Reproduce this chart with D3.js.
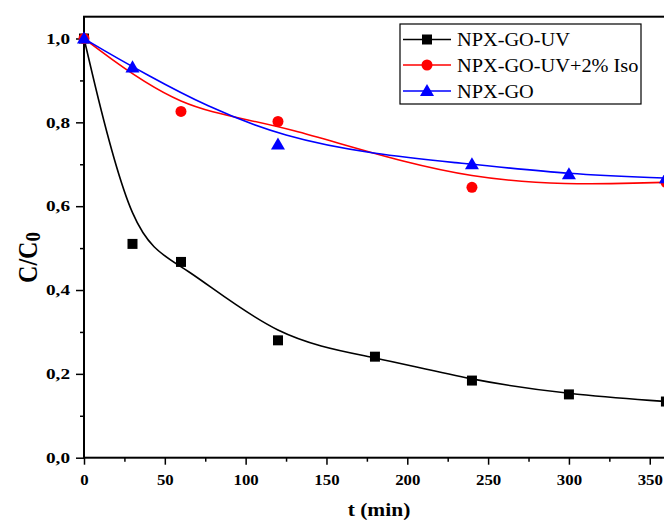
<!DOCTYPE html>
<html><head><meta charset="utf-8">
<script src="https://cdn.jsdelivr.net/npm/d3@7/dist/d3.min.js"></script>
<style>body{margin:0;background:#fff;overflow:hidden}svg{display:block}</style>
</head><body>
<svg id="c" width="664" height="525"></svg>
<script>
const times = [0, 30, 60, 120, 180, 240, 300, 360];
const uvValues = [1.0, 0.51, 0.467, 0.28, 0.241, 0.184, 0.151, 0.134];
const isoTimes = [0, 60, 120, 240, 360];
const isoValues = [1.0, 0.826, 0.802, 0.645, 0.657];
const goTimes = [0, 30, 120, 240, 300, 360];
const goValues = [1.0, 0.931, 0.747, 0.7, 0.676, 0.667];
const xTicks = [0, 50, 100, 150, 200, 250, 300, 350];
const yTicks = [0, 0.2, 0.4, 0.6, 0.8, 1.0];
const seriesNames = ["NPX-GO-UV", "NPX-GO-UV+2% Iso", "NPX-GO"];

const svg = d3.select("#c");
const L = 84, T = 16.7, B = 457.7, R = 674;
const x = d3.scaleLinear().domain([0, 365]).range([L, R]);
const y = d3.scaleLinear().domain([0, 1.052]).range([B, T]);
const font = "'Liberation Serif','Times New Roman',serif";

function stretch(sel, k) {
  sel.each(function () {
    const w = this.getComputedTextLength();
    d3.select(this).attr("textLength", w * k).attr("lengthAdjust", "spacingAndGlyphs");
  });
}

// frame
svg.append("rect").attr("x", L).attr("y", T).attr("width", R - L).attr("height", B - T)
  .attr("fill", "none").attr("stroke", "#000").attr("stroke-width", 2);

// x axis
const xa = svg.append("g").attr("transform", `translate(0,${B})`)
  .call(d3.axisBottom(x).tickValues(xTicks).tickSize(7).tickPadding(10).tickFormat(d3.format("d")));
xa.call(g => g.select(".domain").remove());
xa.selectAll("line").attr("stroke-width", 1.5);
xa.selectAll("text").attr("font-family", font).attr("font-weight", "bold").attr("font-size", 15).call(stretch, 1.12);
const xm = svg.append("g").attr("transform", `translate(0,${B})`)
  .call(d3.axisBottom(x).tickValues(d3.range(25, 365, 50)).tickSize(4).tickFormat(""));
xm.call(g => g.select(".domain").remove());
xm.selectAll("line").attr("stroke-width", 1.5);

// y axis
const ya = svg.append("g").attr("transform", `translate(${L},0)`)
  .call(d3.axisLeft(y).tickValues(yTicks).tickSize(8).tickPadding(6).tickFormat(d => d3.format(".1f")(d).replace(".", ",")));
ya.call(g => g.select(".domain").remove());
ya.selectAll("line").attr("stroke-width", 1.5);
ya.selectAll("text").attr("font-family", font).attr("font-weight", "bold").attr("font-size", 15).call(stretch, 1.28);
const ym = svg.append("g").attr("transform", `translate(${L},0)`)
  .call(d3.axisLeft(y).tickValues([0.1, 0.3, 0.5, 0.7, 0.9]).tickSize(4).tickFormat(""));
ym.call(g => g.select(".domain").remove());
ym.selectAll("line").attr("stroke-width", 1.5);

// titles
svg.append("text").attr("x", (L + R) / 2).attr("y", 516).attr("text-anchor", "middle")
  .attr("font-family", font).attr("font-weight", "bold").attr("font-size", 19).text("t (min)")
  .call(stretch, 1.13);
const yt = svg.append("text").attr("transform", "translate(37,257.5) scale(1.12,1) rotate(-90)").attr("text-anchor", "middle")
  .attr("font-family", font).attr("font-weight", "bold").attr("font-size", 24);
yt.append("tspan").text("C/C");
yt.append("tspan").attr("dy", 3).attr("font-size", 19).text("0");

// series
const series = [
  {t: times, v: uvValues, color: "#000000", shape: "square"},
  {t: isoTimes, v: isoValues, color: "#ff0000", shape: "circle"},
  {t: goTimes, v: goValues, color: "#0000ff", shape: "triangle"}
];
const line = d3.line().x(d => x(d[0])).y(d => y(d[1])).curve(d3.curveBasis);
const sym = {
  square: d3.symbol().type(d3.symbolSquare).size(100),
  circle: d3.symbol().type(d3.symbolCircle).size(95),
  triangle: d3.symbol().type(d3.symbolTriangle).size(85)
};
series.forEach(s => {
  const pts = s.t.map((t, i) => [t, s.v[i]]);
  svg.append("path").attr("d", line(pts)).attr("fill", "none").attr("stroke", s.color).attr("stroke-width", 1.6);
});
series.forEach(s => {
  const pts = s.t.map((t, i) => [t, s.v[i]]);
  svg.selectAll(null).data(pts).enter().append("path")
    .attr("d", sym[s.shape]())
    .attr("transform", d => `translate(${x(d[0])},${y(d[1]) + (s.shape === "triangle" ? 1 : 0)})`)
    .attr("fill", s.color);
});

// legend
const lg = svg.append("g");
lg.append("rect").attr("x", 400).attr("y", 24).attr("width", 241).attr("height", 80)
  .attr("fill", "#fff").attr("stroke", "#000").attr("stroke-width", 1.2);
const ly = [39.5, 65, 91];
series.forEach((s, i) => {
  lg.append("line").attr("x1", 403).attr("x2", 451).attr("y1", ly[i]).attr("y2", ly[i])
    .attr("stroke", s.color).attr("stroke-width", 1.6);
  lg.append("path").attr("d", sym[s.shape]()).attr("transform", `translate(427,${ly[i] + (s.shape === "triangle" ? 1 : 0)})`).attr("fill", s.color);
  lg.append("text").attr("x", 457).attr("y", ly[i] + 6.5).attr("font-family", font).attr("font-size", 19)
    .text(seriesNames[i]).call(stretch, 1.07);
});
</script>
</body></html>
